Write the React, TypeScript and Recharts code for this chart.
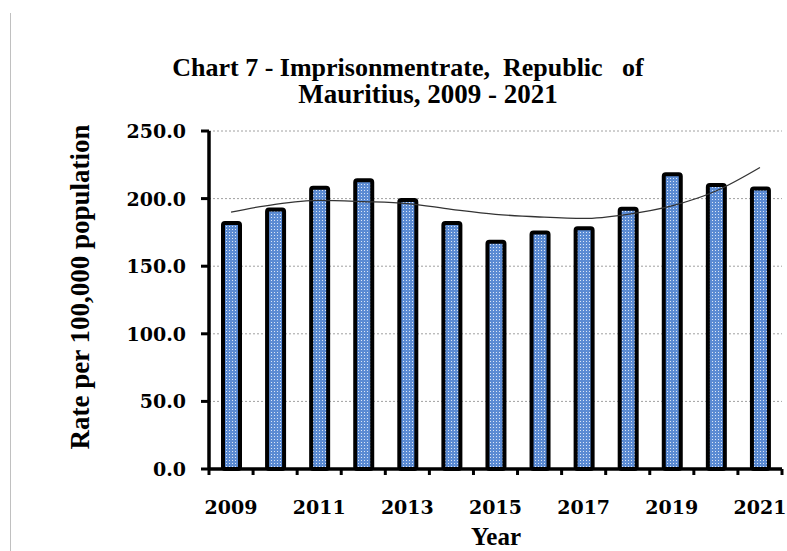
import React from "react";
import { ComposedChart, Bar, Line, XAxis, YAxis, CartesianGrid, Label } from "recharts";

const years = ["2009", "2010", "2011", "2012", "2013", "2014", "2015", "2016", "2017", "2018", "2019", "2020", "2021"];
const rates = [182, 192, 208, 213.5, 199, 182, 168, 175, 178, 192.5, 218, 210, 207.5];
const trend = [190, 195.8, 198.7, 197.8, 196.3, 192.1, 188.4, 186.4, 185.3, 188.4, 194.6, 205.6, 223];
const yTicks = [0, 50, 100, 150, 200, 250];
const titleLines = ["Chart 7 - Imprisonmentrate,  Republic   of", "Mauritius, 2009 - 2021"];
const yLabel = "Rate per 100,000 population";
const xLabel = "Year";

const data = years.map((y, i) => ({ year: y, rate: rates[i], trend: trend[i] }));

const W = 787;
const H = 551;
const M = { top: 131, right: 5, bottom: 0, left: 0 };
const Y_AXIS_W = 209;
const X_AXIS_H = 82;
const HALF_BAND = (W - M.left - M.right - Y_AXIS_W) / years.length / 2;

const serifBold = "'Liberation Serif', 'Times New Roman', serif";
const tickFont = "'DejaVu Serif', serif";

const XTick = (props: any) => {
  const { x, y, index, payload } = props;
  const last = index === years.length - 1;
  return (
    <g>
      <line x1={x - HALF_BAND} y1={y - 8} x2={x - HALF_BAND} y2={y - 2} stroke="#000" strokeWidth={3} />
      {last && <line x1={x + HALF_BAND} y1={y - 8} x2={x + HALF_BAND} y2={y - 2} stroke="#000" strokeWidth={3} />}
      {index % 2 === 0 && (
        <text x={x} y={y + 37} textAnchor="middle" fontFamily={tickFont} fontWeight="bold" fontSize={19} fill="#000">
          {payload.value}
        </text>
      )}
    </g>
  );
};

const YTick = (props: any) => {
  const { x, y, payload } = props;
  return (
    <text x={x} y={y} dy={7} textAnchor="end" fontFamily={tickFont} fontWeight="bold" fontSize={19} fill="#000">
      {Number(payload.value).toFixed(1)}
    </text>
  );
};

export default function App() {
  return (
    <div style={{ position: "absolute", left: 0, top: 0, width: W, height: H, background: "#fff" }}>
      <div style={{ position: "absolute", left: 10, top: 13, width: 1, height: H - 13, background: "#c0c0c0" }} />
      <ComposedChart width={W} height={H} data={data} margin={M}>
        <defs>
          <pattern id="dots" width="3" height="3" patternUnits="userSpaceOnUse">
            <rect width="3" height="3" fill="#5b8bd3" />
            <rect x="1" y="1" width="1" height="1" fill="#dbe6f7" />
          </pattern>
        </defs>
        <text x={408} y={76} textAnchor="middle" fontFamily={serifBold} fontWeight="bold" fontSize={26} fill="#000" style={{ whiteSpace: "pre" }}>
          {titleLines[0]}
        </text>
        <text x={428} y={103} textAnchor="middle" fontFamily={serifBold} fontWeight="bold" fontSize={27} fill="#000" style={{ whiteSpace: "pre" }}>
          {titleLines[1]}
        </text>
        <CartesianGrid vertical={false} stroke="#a0a0a0" strokeDasharray="2 2" strokeWidth={1} />
        <XAxis
          dataKey="year"
          interval={0}
          height={X_AXIS_H}
          tickLine={false}
          axisLine={{ stroke: "#000", strokeWidth: 3.5 }}
          tick={<XTick />}
        >
          <Label
            content={() => (
              <text x={496} y={545} textAnchor="middle" fontFamily={serifBold} fontWeight="bold" fontSize={25} fill="#000">
                {xLabel}
              </text>
            )}
          />
        </XAxis>
        <YAxis
          width={Y_AXIS_W}
          domain={[0, 250]}
          ticks={yTicks}
          interval={0}
          tickSize={8}
          tickMargin={15}
          tickLine={{ stroke: "#000", strokeWidth: 3 }}
          axisLine={{ stroke: "#000", strokeWidth: 3.5 }}
          tick={<YTick />}
        >
          <Label
            content={() => (
              <text
                x={89}
                y={287}
                transform="rotate(-90 89 287)"
                textAnchor="middle"
                fontFamily={serifBold}
                fontWeight="bold"
                fontSize={27}
                fill="#000"
              >
                {yLabel}
              </text>
            )}
          />
        </YAxis>
        <Bar dataKey="rate" barSize={17} fill="url(#dots)" stroke="#000" strokeWidth={4} radius={2} isAnimationActive={false} />
        <Line dataKey="trend" type="monotone" stroke="#333" strokeWidth={1.3} dot={false} isAnimationActive={false} />
      </ComposedChart>
    </div>
  );
}
